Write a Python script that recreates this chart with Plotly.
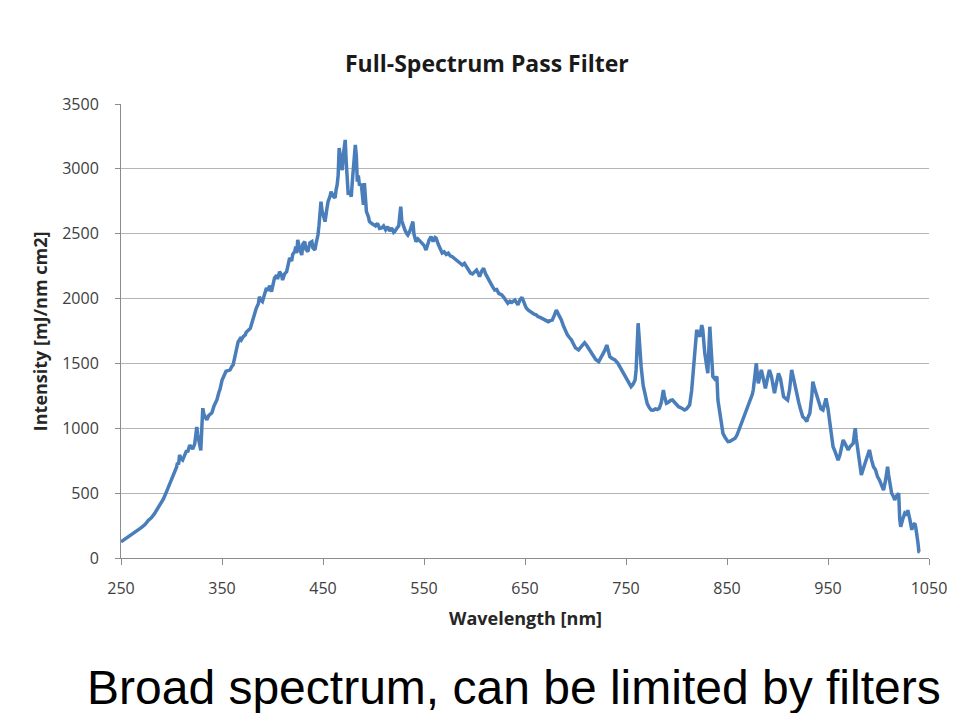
import plotly.graph_objects as go

# Wavelength (nm) and intensity (mJ/nm cm2)
wavelength = [
    250, 253, 256, 259, 262, 265, 268, 271, 274, 277, 280, 283, 286, 289, 292, 295, 298, 301, 303, 305,
    306, 307, 308, 309, 311, 313, 315, 316, 318, 320, 321, 323, 324, 325, 326, 327, 328, 329, 330, 331,
    332, 333, 335, 337, 338, 340, 342, 343, 345, 347, 348, 350, 352, 354, 356, 358, 360, 361, 363, 364,
    366, 368, 369, 371, 373, 374, 376, 378, 379, 381, 382, 384, 386, 387, 388, 390, 392, 394, 396, 397,
    399, 401, 402, 404, 405, 407, 409, 410, 412, 414, 415, 417, 419, 420, 422, 423, 424, 425, 427, 429,
    430, 432, 433, 435, 437, 439, 440, 442, 443, 445, 446, 447, 448, 449, 450, 452, 454, 455, 457, 458,
    460, 462, 463, 464, 465, 466, 467, 468, 469, 470, 471, 472, 473, 474, 475, 476, 478, 479, 480, 481,
    482, 483, 484, 485, 486, 488, 489, 490, 491, 492, 493, 495, 496, 498, 500, 502, 504, 506, 508, 510,
    512, 514, 516, 518, 520, 521, 523, 525, 526, 527, 528, 529, 531, 533, 534, 536, 538, 539, 540, 541,
    542, 544, 546, 548, 550, 552, 553, 555, 557, 559, 561, 562, 564, 566, 568, 570, 572, 574, 576, 578,
    580, 582, 584, 586, 588, 590, 592, 594, 596, 598, 600, 602, 604, 605, 607, 609, 611, 614, 616, 618,
    620, 622, 624, 627, 629, 631, 633, 635, 637, 640, 642, 643, 645, 647, 649, 651, 653, 655, 657, 659,
    661, 663, 665, 667, 669, 671, 673, 675, 677, 679, 681, 683, 685, 686, 688, 690, 692, 694, 696, 698,
    700, 703, 705, 707, 709, 711, 714, 716, 718, 720, 723, 725, 727, 729, 731, 732, 734, 736, 739, 742,
    745, 747, 749, 751, 753, 755, 757, 759, 760, 761, 762, 763, 764, 765, 767, 769, 771, 773, 775, 777,
    779, 781, 783, 785, 787, 788, 790, 792, 794, 796, 798, 800, 802, 804, 806, 808, 810, 812, 813, 815,
    816, 818, 820, 821, 823, 824, 825, 826, 827, 828, 829, 830, 831, 832, 833, 834, 835, 836, 838, 840,
    841, 843, 845, 846, 848, 850, 851, 853, 855, 858, 860, 862, 864, 866, 868, 871, 873, 875, 876, 877,
    879, 880, 881, 882, 884, 886, 888, 890, 892, 894, 896, 897, 899, 901, 903, 905, 906, 908, 910, 912,
    914, 916, 918, 919, 921, 923, 925, 927, 929, 930, 932, 934, 935, 937, 939, 941, 943, 945, 947, 948,
    950, 952, 953, 955, 957, 958, 960, 962, 964, 965, 967, 969, 970, 972, 975, 976, 977, 978, 980, 981,
    983, 985, 987, 988, 990, 991, 993, 995, 997, 999, 1001, 1003, 1005, 1007, 1009, 1010, 1012, 1013, 1015, 1016,
    1018, 1020, 1021, 1022, 1024, 1026, 1028, 1029, 1031, 1033, 1034, 1036, 1037, 1038, 1039, 1040, 1041,
]
intensity = [
    125, 140, 155, 172, 188, 205, 222, 240, 260, 290, 310, 340, 375, 410, 455, 510, 565, 620, 660, 700,
    735, 720, 795, 770, 755, 800, 830, 815, 870, 850, 840, 880, 930, 1010, 950, 900, 870, 830, 1000, 1155,
    1110, 1090, 1065, 1100, 1110, 1120, 1170, 1190, 1220, 1280, 1300, 1370, 1410, 1440, 1445, 1450, 1480, 1488, 1560, 1610,
    1668, 1690, 1680, 1706, 1720, 1740, 1758, 1770, 1796, 1850, 1890, 1927, 1960, 2015, 1990, 1976, 2030, 2081, 2060, 2100,
    2053, 2110, 2159, 2180, 2150, 2207, 2180, 2143, 2190, 2207, 2250, 2313, 2290, 2340, 2362, 2400, 2350, 2452, 2380, 2336,
    2420, 2439, 2380, 2362, 2430, 2439, 2390, 2375, 2420, 2490, 2560, 2650, 2747, 2680, 2640, 2593, 2700, 2747, 2790, 2824,
    2790, 2776, 2840, 2876, 2950, 3161, 3100, 3030, 2990, 3100, 3190, 3223, 3050, 2900, 2800, 2830, 2786, 2900, 3007, 3120,
    3184, 3100, 2901, 2950, 2880, 2876, 2780, 2722, 2891, 2780, 2670, 2630, 2593, 2580, 2570, 2560, 2580, 2540, 2544, 2560,
    2530, 2554, 2520, 2545, 2510, 2516, 2540, 2560, 2640, 2709, 2600, 2567, 2530, 2500, 2490, 2520, 2560, 2593, 2500, 2450,
    2439, 2460, 2440, 2428, 2410, 2375, 2400, 2450, 2477, 2440, 2470, 2465, 2420, 2380, 2351, 2360, 2340, 2350, 2330, 2323,
    2310, 2300, 2290, 2270, 2259, 2272, 2250, 2220, 2197, 2190, 2210, 2220, 2190, 2169, 2210, 2234, 2190, 2143, 2120, 2090,
    2066, 2070, 2040, 2028, 2010, 1990, 1964, 1980, 1970, 1989, 1960, 1951, 1990, 2010, 1970, 1930, 1912, 1900, 1890, 1880,
    1875, 1860, 1855, 1845, 1840, 1830, 1822, 1830, 1835, 1870, 1912, 1880, 1850, 1835, 1790, 1750, 1720, 1700, 1681, 1650,
    1620, 1604, 1620, 1640, 1660, 1640, 1604, 1580, 1560, 1530, 1514, 1540, 1570, 1600, 1642, 1610, 1552, 1540, 1527, 1501,
    1460, 1430, 1411, 1380, 1350, 1321, 1340, 1372, 1450, 1650, 1810, 1700, 1560, 1475, 1330, 1244, 1190, 1160, 1141, 1140,
    1150, 1145, 1154, 1200, 1295, 1250, 1193, 1200, 1215, 1218, 1200, 1175, 1166, 1160, 1150, 1141, 1150, 1165, 1180, 1290,
    1398, 1600, 1758, 1740, 1706, 1750, 1796, 1760, 1650, 1578, 1527, 1450, 1424, 1600, 1783, 1650, 1500, 1398, 1380, 1398,
    1218, 1100, 1000, 961, 930, 905, 897, 900, 910, 923, 950, 990, 1038, 1080, 1110, 1166, 1220, 1260, 1295, 1380,
    1501, 1420, 1347, 1380, 1450, 1380, 1308, 1380, 1450, 1400, 1300, 1270, 1350, 1424, 1380, 1270, 1244, 1230, 1218, 1300,
    1450, 1380, 1300, 1270, 1200, 1140, 1089, 1075, 1051, 1080, 1116, 1250, 1359, 1300, 1244, 1200, 1150, 1141, 1190, 1231,
    1150, 1012, 950, 858, 820, 790, 755, 800, 860, 910, 880, 840, 833, 860, 884, 950, 1000, 920, 807, 760,
    640, 690, 740, 755, 800, 833, 760, 704, 680, 627, 600, 560, 524, 600, 704, 640, 540, 499, 470, 447,
    480, 499, 300, 241, 300, 345, 330, 370, 300, 216, 250, 268, 230, 190, 120, 49, 45,
]

x_ticks = [250, 350, 450, 550, 650, 750, 850, 950, 1050]
y_ticks = [0, 500, 1000, 1500, 2000, 2500, 3000, 3500]

title_text = "Full-Spectrum Pass Filter"
x_title = "Wavelength [nm]"
y_title = "Intensity [mJ/nm cm2]"
caption = "Broad spectrum, can be limited by filters"

fig = go.Figure()
fig.add_trace(go.Scatter(
    x=wavelength, y=intensity, mode="lines",
    line=dict(color="#4a7ebb", width=3.5),
    showlegend=False, hoverinfo="skip",
))

tick_font = dict(family="Open Sans", size=16, color="#404040")
fig.update_layout(
    width=973, height=713,
    margin=dict(l=113, r=52, t=96, b=163),
    paper_bgcolor="white", plot_bgcolor="white",
    xaxis=dict(
        range=[250, 1050], tickvals=x_ticks, ticktext=[str(v) for v in x_ticks],
        showgrid=False, zeroline=False,
        showline=True, linecolor="#8c8c8c", linewidth=1,
        ticks="outside", ticklen=6, tickcolor="#8c8c8c",
        tickfont=tick_font, ticklabelstandoff=10,
    ),
    yaxis=dict(
        range=[0, 3500], tickvals=y_ticks, ticktext=[str(v) for v in y_ticks],
        showgrid=True, gridcolor="#b5b5b5", gridwidth=1, zeroline=False,
        showline=True, linecolor="#8c8c8c", linewidth=1,
        ticks="outside", ticklen=5, tickcolor="#8c8c8c",
        tickfont=tick_font, ticklabelstandoff=13,
    ),
    annotations=[
        dict(text="<b>" + title_text + "</b>", xref="paper", yref="paper",
             x=0.453, y=1.0903, xanchor="center", yanchor="middle", showarrow=False,
             font=dict(family="Open Sans", size=23, color="#1a1a1a")),
        dict(text="<b>" + x_title + "</b>", xref="paper", yref="paper",
             x=0.5, y=-0.132, xanchor="center", yanchor="middle", showarrow=False,
             font=dict(family="Open Sans", size=18, color="#262626")),
        dict(text="<b>" + y_title + "</b>", xref="paper", yref="paper",
             x=-0.1, y=0.5, xanchor="center", yanchor="middle", showarrow=False,
             textangle=-90,
             font=dict(family="Open Sans", size=18, color="#262626")),
        dict(text=caption, xref="paper", yref="paper",
             x=0.486, y=-0.285, xanchor="center", yanchor="middle", showarrow=False,
             font=dict(family="Liberation Sans", size=48, color="black")),
    ],
)

fig.write_html("out.html")
